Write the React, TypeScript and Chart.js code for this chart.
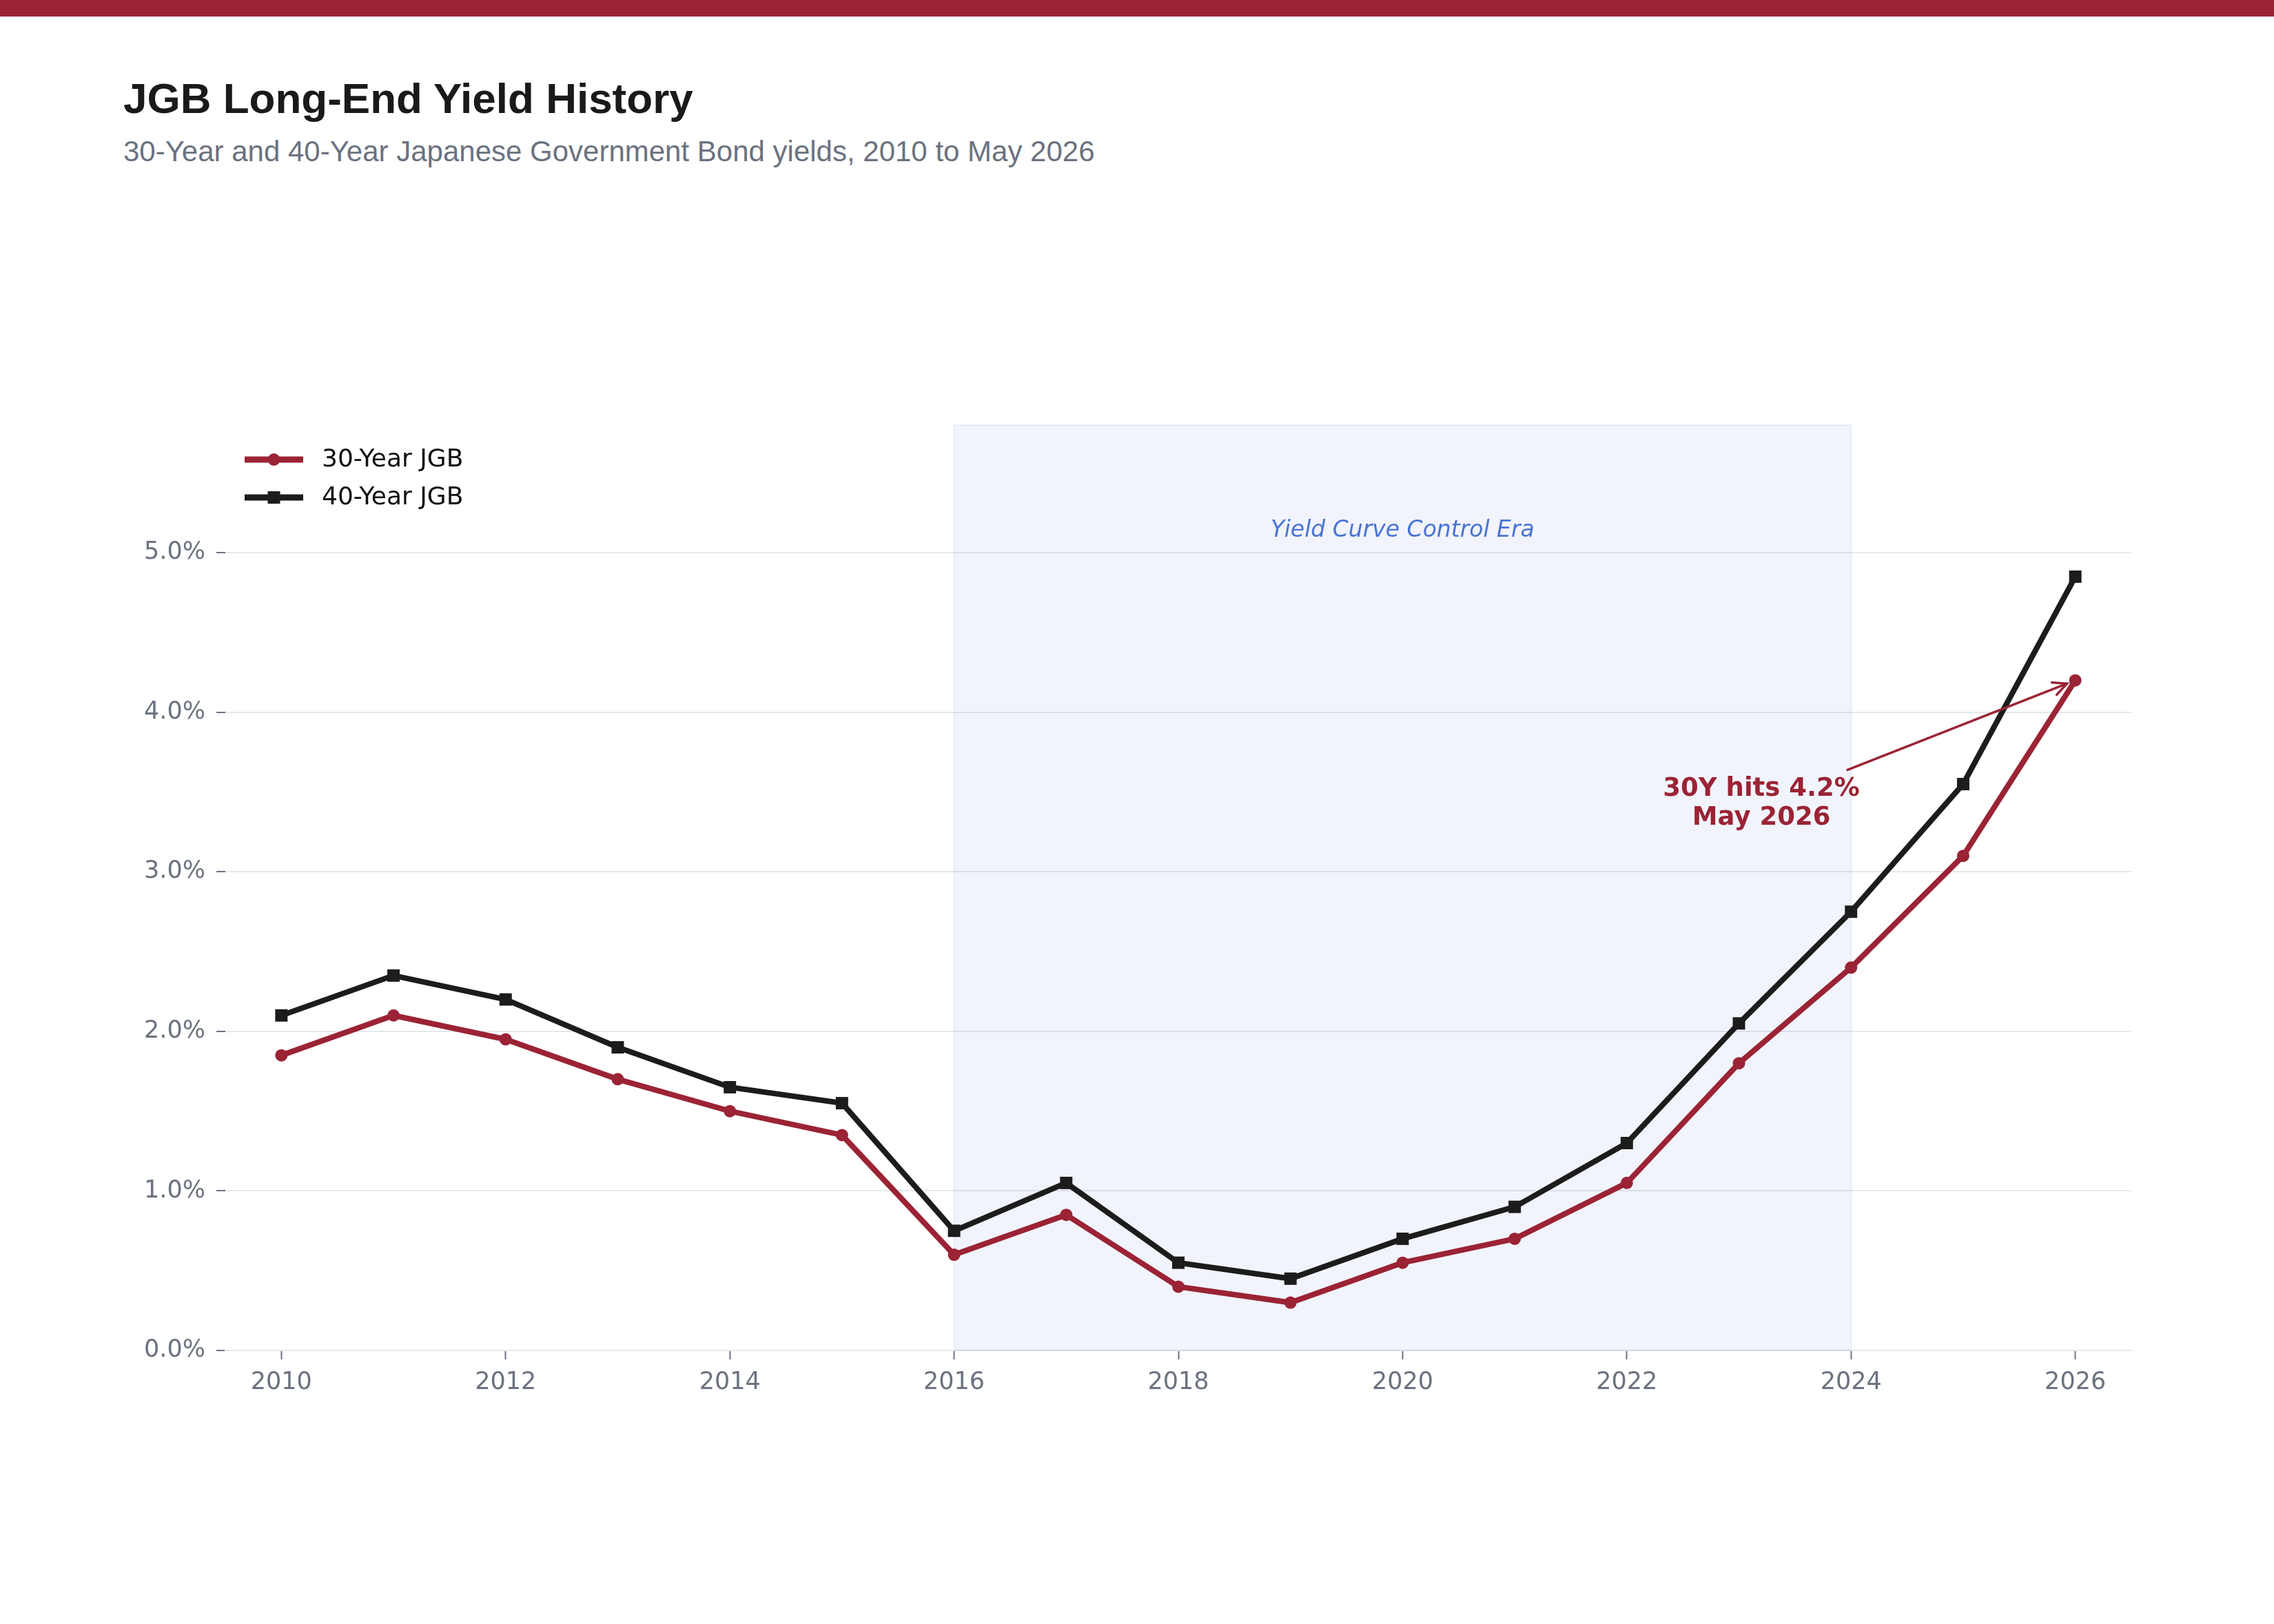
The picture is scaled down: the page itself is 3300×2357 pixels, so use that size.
import React, { useEffect, useRef } from "react";
import { Chart, registerables } from "chart.js";

Chart.register(...registerables);

// Annual long-end JGB yields (%)
const years = [2010, 2011, 2012, 2013, 2014, 2015, 2016, 2017, 2018, 2019, 2020, 2021, 2022, 2023, 2024, 2025, 2026];
const yield30 = [1.85, 2.1, 1.95, 1.7, 1.5, 1.35, 0.6, 0.85, 0.4, 0.3, 0.55, 0.7, 1.05, 1.8, 2.4, 3.1, 4.2];
const yield40 = [2.1, 2.35, 2.2, 1.9, 1.65, 1.55, 0.75, 1.05, 0.55, 0.45, 0.7, 0.9, 1.3, 2.05, 2.75, 3.55, 4.85];

const seriesNames = ["30-Year JGB", "40-Year JGB"];
const xTickYears = [2010, 2012, 2014, 2016, 2018, 2020, 2022, 2024, 2026];
const yTickValues = [0, 1, 2, 3, 4, 5];

// Yield Curve Control shading
const yccStart = 2016;
const yccEnd = 2024;
const yccLabel = "Yield Curve Control Era";

// Callout on the latest 30-year print
const calloutLines = ["30Y hits 4.2%", "May 2026"];
const calloutAnchor = { x: 2023.2, y: 3.44 };

const RED = "#9b2335";
const INK = "#1c1c1c";
const GRAY = "#6b7280";
const GRID = "#e5e7eb";

const W = 3300;
const H = 2357;
const PLOT_BOTTOM = 1960;

const yccPlugin = {
  id: "yccSpan",
  beforeDatasetsDraw(chart: any) {
    const { ctx, chartArea, scales } = chart;
    const x = scales.x;
    const y = scales.y;
    const x0 = x.getPixelForValue(yccStart);
    const x1 = x.getPixelForValue(yccEnd);
    ctx.save();
    ctx.fillStyle = "rgba(74,114,212,0.08)";
    ctx.fillRect(x0, chartArea.top, x1 - x0, chartArea.bottom - chartArea.top);
    ctx.strokeStyle = "rgba(74,114,212,0.10)";
    ctx.lineWidth = 2;
    ctx.strokeRect(x0, chartArea.top, x1 - x0, chartArea.bottom - chartArea.top);
    ctx.font = 'italic 33px "DejaVu Sans"';
    ctx.fillStyle = "#4a74d4";
    ctx.textAlign = "center";
    ctx.textBaseline = "alphabetic";
    ctx.fillText(yccLabel, x.getPixelForValue((yccStart + yccEnd) / 2), y.getPixelForValue(5.1));
    ctx.restore();
  },
};

const calloutPlugin = {
  id: "callout",
  afterDatasetsDraw(chart: any) {
    const { ctx, scales } = chart;
    const x = scales.x;
    const y = scales.y;
    const cx = x.getPixelForValue(calloutAnchor.x);
    const cy = y.getPixelForValue(calloutAnchor.y);
    const last = years.length - 1;
    const px = x.getPixelForValue(years[last]);
    const py = y.getPixelForValue(yield30[last]);

    ctx.save();
    // arrow
    const sx = cx + 125;
    const sy = cy - 46;
    const dx = px - sx;
    const dy = py - sy;
    const len = Math.hypot(dx, dy);
    const ux = dx / len;
    const uy = dy / len;
    const tx = px - ux * 13;
    const ty = py - uy * 13;
    ctx.strokeStyle = RED;
    ctx.lineWidth = 3.5;
    ctx.lineCap = "round";
    ctx.beginPath();
    ctx.moveTo(sx, sy);
    ctx.lineTo(tx, ty);
    ctx.stroke();
    const ang = Math.atan2(dy, dx);
    const head = 22;
    const spread = 0.45;
    ctx.beginPath();
    ctx.moveTo(tx - head * Math.cos(ang - spread), ty - head * Math.sin(ang - spread));
    ctx.lineTo(tx, ty);
    ctx.lineTo(tx - head * Math.cos(ang + spread), ty - head * Math.sin(ang + spread));
    ctx.stroke();

    // text
    ctx.font = 'bold 37px "DejaVu Sans"';
    ctx.fillStyle = RED;
    ctx.textAlign = "center";
    ctx.textBaseline = "alphabetic";
    ctx.fillText(calloutLines[0], cx, cy - 8);
    ctx.fillText(calloutLines[1], cx, cy + 34);
    ctx.restore();
  },
};

const legendPlugin = {
  id: "lineLegend",
  afterDraw(chart: any) {
    const { ctx, chartArea } = chart;
    const left = chartArea.left + 28;
    const rows = [
      { name: seriesNames[0], color: RED, marker: "circle", y: chartArea.top + 50 },
      { name: seriesNames[1], color: INK, marker: "square", y: chartArea.top + 105 },
    ];
    ctx.save();
    for (const r of rows) {
      ctx.strokeStyle = r.color;
      ctx.fillStyle = r.color;
      ctx.lineWidth = 9;
      ctx.lineCap = "butt";
      ctx.beginPath();
      ctx.moveTo(left, r.y);
      ctx.lineTo(left + 85, r.y);
      ctx.stroke();
      const mx = left + 42.5;
      if (r.marker === "circle") {
        ctx.beginPath();
        ctx.arc(mx, r.y, 9, 0, Math.PI * 2);
        ctx.fill();
      } else {
        ctx.fillRect(mx - 9, r.y - 9, 18, 18);
      }
      ctx.font = '36px "DejaVu Sans"';
      ctx.fillStyle = "#111111";
      ctx.textAlign = "left";
      ctx.textBaseline = "middle";
      ctx.fillText(r.name, left + 112, r.y + 1);
    }
    ctx.restore();
  },
};

export default function App() {
  const canvasRef = useRef<HTMLCanvasElement | null>(null);

  useEffect(() => {
    const canvas = canvasRef.current;
    if (!canvas) return;
    const chart = new Chart(canvas, {
      type: "line",
      data: {
        datasets: [
          {
            label: seriesNames[1],
            data: years.map((yr, i) => ({ x: yr, y: yield40[i] })),
            borderColor: INK,
            backgroundColor: INK,
            borderWidth: 8,
            pointStyle: "rect",
            pointRadius: 12.7,
            pointBorderWidth: 0,
            pointBackgroundColor: INK,
            tension: 0,
          },
          {
            label: seriesNames[0],
            data: years.map((yr, i) => ({ x: yr, y: yield30[i] })),
            borderColor: RED,
            backgroundColor: RED,
            borderWidth: 8,
            pointStyle: "circle",
            pointRadius: 9,
            pointBorderWidth: 0,
            pointBackgroundColor: RED,
            tension: 0,
          },
        ],
      },
      options: {
        responsive: false,
        animation: false,
        devicePixelRatio: 1,
        layout: { padding: { left: 0, top: 617, right: 207, bottom: 0 } },
        plugins: {
          legend: { display: false },
          tooltip: { enabled: false },
          title: { display: false },
        },
        scales: {
          x: {
            type: "linear",
            min: 2009.5,
            max: 2026.5,
            afterBuildTicks: (axis: any) => {
              axis.ticks = xTickYears.map((v) => ({ value: v }));
            },
            afterFit: (axis: any) => {
              axis.height = H - PLOT_BOTTOM;
            },
            grid: {
              drawOnChartArea: false,
              drawTicks: true,
              tickLength: 13,
              tickColor: GRAY,
              tickWidth: 2,
            },
            border: { display: true, color: GRID, width: 2 },
            ticks: {
              color: GRAY,
              font: { family: "DejaVu Sans", size: 35 },
              padding: 13,
              maxRotation: 0,
              autoSkip: false,
              callback: (v: any) => String(v),
            },
          },
          y: {
            type: "linear",
            min: 0,
            max: 5.8,
            afterBuildTicks: (axis: any) => {
              axis.ticks = yTickValues.map((v) => ({ value: v }));
            },
            afterFit: (axis: any) => {
              axis.width = 327;
            },
            grid: {
              color: GRID,
              lineWidth: 2,
              drawTicks: true,
              tickLength: 13,
              tickColor: GRAY,
              tickWidth: 2,
            },
            border: { display: false },
            ticks: {
              color: GRAY,
              font: { family: "DejaVu Sans", size: 35 },
              padding: 16,
              callback: (v: any) => Number(v).toFixed(1) + "%",
            },
          },
        },
      },
      plugins: [yccPlugin, calloutPlugin, legendPlugin],
    });
    return () => chart.destroy();
  }, []);

  return (
    <div style={{ position: "absolute", left: 0, top: 0, width: W, height: H, background: "#ffffff", overflow: "hidden" }}>
      <div style={{ position: "absolute", left: 0, top: 0, width: W, height: 24, background: RED }} />
      <div
        style={{
          position: "absolute",
          left: 179,
          top: 112,
          fontFamily: '"Liberation Sans", Arial, sans-serif',
          fontWeight: 700,
          fontSize: 62,
          lineHeight: "62px",
          color: "#1a1a1a",
          whiteSpace: "nowrap",
        }}
      >
        JGB Long-End Yield History
      </div>
      <div
        style={{
          position: "absolute",
          left: 179,
          top: 199,
          fontFamily: '"Liberation Sans", Arial, sans-serif',
          fontSize: 42,
          lineHeight: "42px",
          color: GRAY,
          whiteSpace: "nowrap",
        }}
      >
        30-Year and 40-Year Japanese Government Bond yields, 2010 to May 2026
      </div>
      <canvas ref={canvasRef} width={W} height={H} style={{ position: "absolute", left: 0, top: 0, width: W, height: H }} />
    </div>
  );
}
